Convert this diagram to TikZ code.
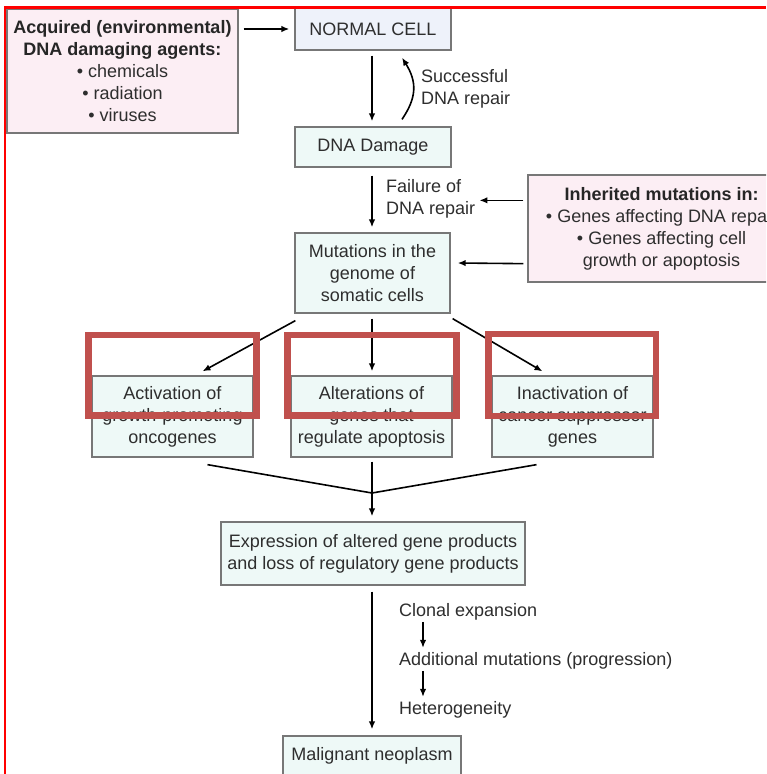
\documentclass[tikz,border=0pt]{standalone}
\usepackage{fontspec}
\setmainfont{Liberation Sans}
\usetikzlibrary{arrows.meta,calc}
\definecolor{txt}{HTML}{2E2E2E}
\definecolor{bord}{HTML}{777777}
\definecolor{pinkf}{HTML}{FCEEF4}
\definecolor{bluef}{HTML}{EEF2FA}
\definecolor{cyanf}{HTML}{EEF9F7}
\definecolor{annot}{HTML}{C0504D}
\newcommand\myfs{\fontsize{18}{22}\selectfont}
\tikzset{
  box/.style={draw=bord, line width=1.3pt, fill=cyanf, text=txt, align=center, inner sep=0pt, font=\myfs},
  pinkbox/.style={box, fill=pinkf},
  lbl/.style={text=txt, align=left, inner sep=0pt, font=\myfs},
  arr/.style={line width=1.6pt, -{Latex[length=8pt,width=6.5pt]}},
  plain/.style={line width=1.6pt},
  annotbox/.style={draw=annot, line width=6.5pt},
  frameline/.style={draw=red, line width=2.5pt}
}
\begin{document}
\begin{tikzpicture}[x=1pt,y=-1pt]
\useasboundingbox (0,0) rectangle (766,774);
\clip (0,0) rectangle (766,774);
\fill[white] (0,0) rectangle (766,774);

% boxes
\node[pinkbox, minimum width=231pt, minimum height=124pt] (acq) at (122.5,71)
  {\textbf{\color{black!85}Acquired (environmental)}\\\textbf{\color{black!85}DNA damaging agents:}\\• chemicals\\• radiation\\• viruses};
\node[box, fill=bluef, minimum width=156pt, minimum height=42pt] (nc) at (373,29) {NORMAL CELL};
\node[box, minimum width=156pt, minimum height=40pt] (dna) at (373,147) {DNA Damage};
\node[box, minimum width=155pt, minimum height=80pt] (mut) at (372.5,273) {Mutations in the\\genome of\\somatic cells};
\node[pinkbox, minimum width=267pt, minimum height=107pt] (inh) at (661.5,228.5)
  {\textbf{\color{black!85}Inherited mutations in:}\\• Genes affecting DNA repair\\• Genes affecting cell\\growth or apoptosis};
\node[box, minimum width=161pt, minimum height=81pt] (b1) at (172.5,416.5) {Activation of\\growth-promoting\\oncogenes};
\node[box, minimum width=161pt, minimum height=81pt] (b2) at (371.5,416.5) {Alterations of\\genes that\\regulate apoptosis};
\node[box, minimum width=161pt, minimum height=81pt] (b3) at (572.5,416.5) {Inactivation of\\cancer suppressor\\genes};
\node[box, minimum width=304pt, minimum height=63pt] (exp) at (373,553.5) {Expression of altered gene products\\and loss of regulatory gene products};
\node[box, minimum width=178pt, minimum height=40pt] (mal) at (372,756) {Malignant neoplasm};

% labels
\node[lbl, anchor=base west] (succ) at (421,104) {Successful\\DNA repair};
\node[lbl, anchor=base west] (fail) at (386,214) {Failure of\\DNA repair};
\node[lbl, anchor=base west] (clon) at (399,616) {Clonal expansion};
\node[lbl, anchor=base west] (add) at (399,665) {Additional mutations (progression)};
\node[lbl, anchor=base west] (het) at (399,714) {Heterogeneity};

% connectors
\draw[arr] ($(acq.north east |- nc.west)+(5,0)$) -- ($(nc.west)+(-5,0)$);
\draw[arr, shorten <=5pt, shorten >=5pt] (nc.south -| 372,0) -- (dna.north -| 372,0);
\draw[arr] ($(dna.north)+(29,-7)$) .. controls +(15,-22) and +(15,24) .. ($(nc.south)+(29,7)$);
\draw[arr, shorten <=8pt, shorten >=5pt] (dna.south -| 372,0) -- (mut.north -| 372,0);
\draw[arr] ($(inh.west |- fail.east)+(-4,2)$) -- ($(fail.east)+(4,2)$);
\draw[arr] ($(inh.south west)+(-4,-19)$) -- ($(mut.east)+(7,-10)$);
\draw[arr] ($(mut.south west)+(1,7)$) -- ($(b1.north)+(30,-4)$);
\draw[arr, shorten <=5pt, shorten >=4pt] (mut.south -| 372,0) -- (b2.north -| 372,0);
\draw[arr] ($(mut.south east)+(2,5)$) -- ($(b3.north)+(-30,-4)$);
\coordinate (j) at (372,493);
\draw[plain] ($(b1.south)+(35,7)$) -- (j) -- ($(b3.south)+(-36,7)$);
\draw[arr, shorten <=4pt, shorten >=5pt] (b2.south -| 372,0) -- (exp.north -| 372,0);
\draw[arr, shorten <=6pt, shorten >=6pt] (exp.south -| 372,0) -- (mal.north -| 372,0);
\draw[arr, line width=1.3pt] ($(clon.south west)+(24,2)$) -- ($(add.north west)+(24,-4)$);
\draw[arr, line width=1.3pt] ($(add.south west)+(24,2)$) -- ($(het.north west)+(24,-4)$);

% annotation rectangles
\draw[annotbox] (88.5,335) rectangle (256.5,415.5);
\draw[annotbox] (287.5,335) rectangle (456.5,415.5);
\draw[annotbox] (488.5,334) rectangle (656,416);

% red frame
\draw[frameline] (4,7.5) -- (766,7.5);
\draw[frameline] (5,6.5) -- (5,774);
\end{tikzpicture}
\end{document}
